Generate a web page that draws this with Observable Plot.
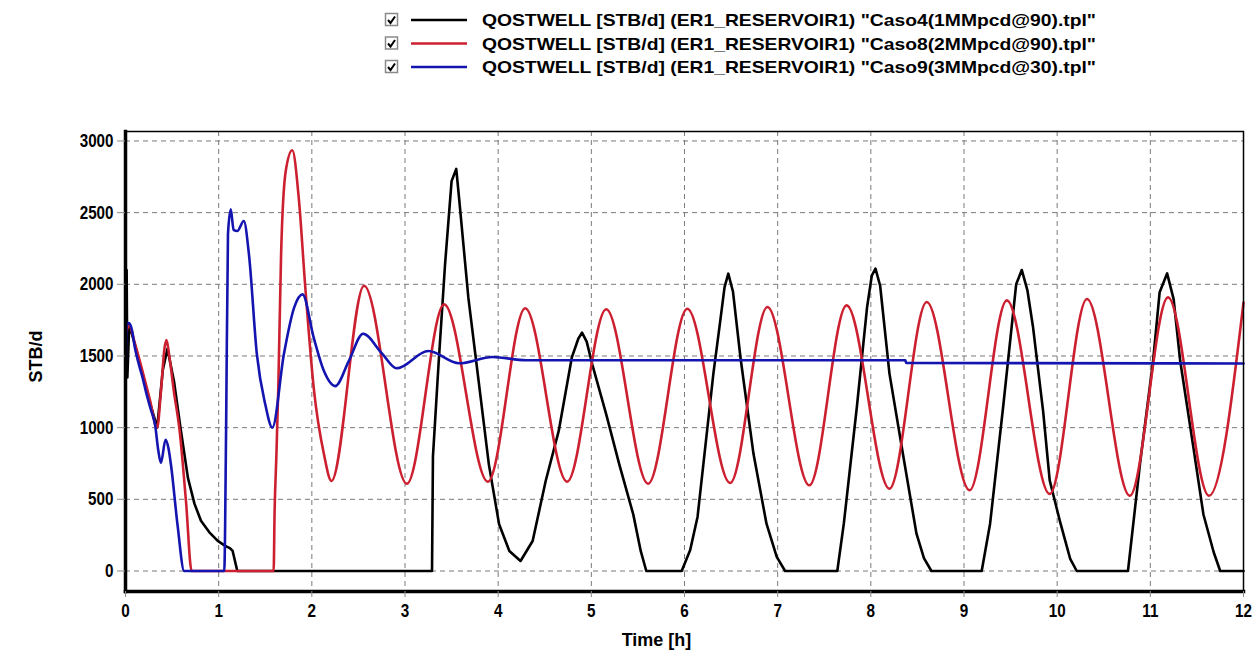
<!DOCTYPE html>
<html>
<head>
<meta charset="utf-8">
<script src="https://cdn.jsdelivr.net/npm/d3@7"></script>
<script src="https://cdn.jsdelivr.net/npm/@observablehq/plot@0.6"></script>
<style>
  html, body { margin: 0; padding: 0; background: #fff; }
  #legend { display: block; }
  .fnt { font-family: "Liberation Sans", Arial, sans-serif; font-weight: bold; }
</style>
</head>
<body>
<svg id="legend" width="1256" height="100"></svg>
<div id="chart"></div>
<script>
// ---- data (time [h], QOSTWELL [STB/d]) ----
const seriesNames = [
  'QOSTWELL [STB/d] (ER1_RESERVOIR1) "Caso4(1MMpcd@90).tpl"',
  'QOSTWELL [STB/d] (ER1_RESERVOIR1) "Caso8(2MMpcd@90).tpl"',
  'QOSTWELL [STB/d] (ER1_RESERVOIR1) "Caso9(3MMpcd@30).tpl"'
];
const seriesColors = ["#000000", "#cc2030", "#1414b0"];

const caso4 = [[0,1350],[0.012,2100],[0.02,1350],[0.04,1720],[0.1,1580],[0.18,1380],[0.26,1180],[0.34,1000],[0.4,1400],[0.45,1550],[0.52,1326],[0.59,1000],[0.67,650],[0.74,470],[0.81,350],[0.9,270],[0.99,210],[1.07,175],[1.12,160],[1.15,140],[1.2,0],
  [3.29,0],[3.3,800],[3.36,1442],[3.43,2140],[3.5,2720],[3.55,2805],[3.58,2605],[3.68,1907],[3.79,1326],[3.9,744],[4.01,326],[4.12,140],[4.24,70],[4.37,209],[4.51,628],[4.65,977],[4.79,1488],[4.86,1620],[4.9,1663],[4.95,1600],[5.01,1442],[5.16,1093],[5.3,744],[5.45,395],[5.53,140],[5.59,0],
  [5.97,0],[6.06,144],[6.14,377],[6.31,1377],[6.38,1726],[6.43,1980],[6.47,2074],[6.52,1950],[6.6,1493],[6.74,819],[6.88,330],[6.99,98],[7.08,0],
  [7.64,0],[7.71,330],[7.85,1144],[7.96,1842],[8.01,2060],[8.05,2109],[8.1,1990],[8.2,1377],[8.35,795],[8.49,260],[8.57,90],[8.65,0],
  [9.19,0],[9.28,330],[9.42,1144],[9.56,2000],[9.62,2100],[9.68,1960],[9.74,1706],[9.85,1110],[9.92,632],[10.03,346],[10.14,84],[10.21,0],
  [10.76,0],[10.89,752],[11.03,1468],[11.1,1945],[11.18,2076],[11.25,1897],[11.32,1468],[11.46,871],[11.57,394],[11.68,131],[11.75,0],[12,0]];

const caso8 = [[0,1650],[0.04,1710],[0.1,1590],[0.18,1400],[0.26,1200],[0.34,1000],[0.38,1250],[0.42,1560],[0.44,1612],[0.47,1500],[0.52,1250],[0.58,984],[0.65,480],[0.71,0],
  [1.59,0],[1.6,400],[1.62,814],[1.64,1279],[1.67,2209],[1.72,2790],[1.79,2935],[1.86,2600],[1.93,1977],[2.02,1279],[2.13,814],[2.21,628],
  [2.56,1990],[3.02,609],[3.42,1860],[3.89,623],[4.29,1833],[4.74,623],[5.16,1826],[5.61,609],[6.03,1830],[6.49,614],[6.89,1842],[7.34,598],[7.74,1853],[8.2,574],[8.6,1877],[9.06,563],[9.46,1888],[9.92,537],[10.32,1897],[10.78,525],[11.19,1909],[11.63,525],[12,1873]];

const caso9 = [[0,1350],[0.015,1720],[0.036,1729],[0.07,1680],[0.1,1560],[0.14,1450],[0.18,1357],[0.22,1250],[0.27,1130],[0.32,1009],[0.35,850],[0.38,754],[0.43,916],[0.46,860],[0.49,731],[0.56,313],[0.63,0],
  [1.06,0],[1.08,1000],[1.1,2350],[1.13,2523],[1.16,2380],[1.2,2372],[1.27,2442],[1.325,2209],[1.41,1512],[1.5,1163],[1.576,1000],[1.7,1512],[1.81,1837],[1.9,1930],[2.02,1628],[2.13,1395],[2.25,1290],[2.4,1470],[2.55,1655],[2.75,1520],[2.91,1414],[3.25,1535],[3.58,1449],[3.94,1493],[4.3,1470],[8.37,1470],[8.38,1451],[12,1448]];

const xTicks = [0,1,2,3,4,5,6,7,8,9,10,11,12];
const yTicks = [0,500,1000,1500,2000,2500,3000];

// ---- legend ----
const lg = d3.select("#legend");
seriesNames.forEach((name, i) => {
  const cy = 20 + i * 23.5;
  const g = lg.append("g");
  g.append("rect").attr("x", 385.5).attr("y", cy - 6.5).attr("width", 12).attr("height", 12)
    .attr("fill", "#fff").attr("stroke", "#8a8a8a").attr("stroke-width", 1.5);
  g.append("path").attr("d", `M${388},${cy} l2.5,3 l4.5,-6.5`).attr("fill", "none")
    .attr("stroke", "#000").attr("stroke-width", 2);
  g.append("line").attr("x1", 411).attr("x2", 467).attr("y1", cy).attr("y2", cy)
    .attr("stroke", seriesColors[i]).attr("stroke-width", 2.5);
  g.append("text").attr("class", "fnt").attr("x", 482).attr("y", cy + 6)
    .attr("font-size", 17).attr("textLength", 614).attr("lengthAdjust", "spacingAndGlyphs")
    .attr("fill", "#000").text(name);
});

// ---- chart ----
const curves = [
  {data: caso4, color: seriesColors[0], curve: "linear"},
  {data: caso8, color: seriesColors[1], curve: "monotone-x"},
  {data: caso9, color: seriesColors[2], curve: "monotone-x"}
];

const chart = Plot.plot({
  width: 1256,
  height: 556,
  marginTop: 31,
  marginLeft: 125,
  marginRight: 13,
  marginBottom: 65,
  style: {fontFamily: '"Liberation Sans", Arial, sans-serif', fontWeight: "bold", fontSize: "18px", color: "#000", background: "#fff"},
  x: {domain: [0, 12]},
  y: {domain: [-143, 3066]},
  marks: [
    Plot.gridX(xTicks, {stroke: "#7a7a7a", strokeOpacity: 1, strokeWidth: 1, strokeDasharray: "5,4"}),
    Plot.gridY(yTicks, {stroke: "#7a7a7a", strokeOpacity: 1, strokeWidth: 1, strokeDasharray: "5,4"}),
    ...curves.map(c => Plot.line(c.data, {x: d => d[0], y: d => d[1], stroke: c.color, strokeWidth: 2.6, curve: c.curve})),
    Plot.frame({stroke: "#000", strokeWidth: 1.5}),
    Plot.frame({anchor: "left", stroke: "#000", strokeWidth: 3.5}),
    Plot.frame({anchor: "bottom", stroke: "#000", strokeWidth: 3.5}),
    Plot.axisX(xTicks, {tickSize: 6, tickPadding: 6, stroke: "#8a8a8a", label: null, fontSize: 19, tickFormat: d => String(d)}),
    Plot.axisY(yTicks, {tickSize: 8, tickPadding: 4, stroke: "#8a8a8a", label: null, fontSize: 19, tickFormat: d => String(d)}),
    Plot.text(["Time [h]"], {frameAnchor: "bottom", dx: -28, dy: 54, fontSize: 18, fontWeight: "bold", fill: "#000"}),
    Plot.text(["STB/d"], {frameAnchor: "left", textAnchor: "middle", rotate: -90, dx: -89, dy: -5, fontSize: 18, fontWeight: "bold", fill: "#000"})
  ]
});
document.getElementById("chart").appendChild(chart);

// condensed look for tick labels (like Arial Narrow Bold)
chart.querySelectorAll('g[aria-label$="tick label"] text').forEach(t => {
  const len = t.getComputedTextLength();
  if (len > 0) {
    t.setAttribute("textLength", (len * 0.8).toFixed(1));
    t.setAttribute("lengthAdjust", "spacingAndGlyphs");
  }
});
</script>
</body>
</html>
